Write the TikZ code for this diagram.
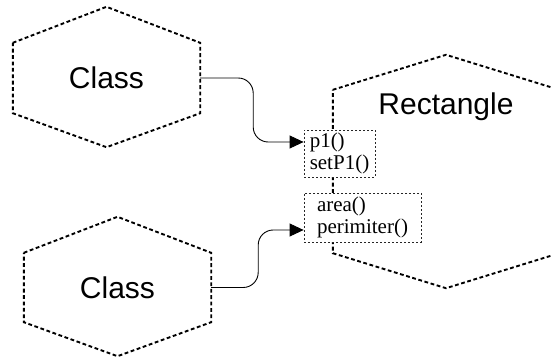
\documentclass[tikz,border=0pt]{standalone}
\usepackage{fontspec}
\setmainfont{Liberation Serif}
\newfontfamily\arialfont{Liberation Sans}
\usetikzlibrary{calc,arrows.meta}
\tikzset{
  hexbox/.style={minimum width=#1, inner sep=0pt, font=\arialfont\fontsize{30}{34}\selectfont},
  hexline/.style={draw=black, line width=1.9pt, dash pattern=on 3.8pt off 2.6pt},
  methbox/.style={draw=black!85, fill=white, line width=0.8pt, dash pattern=on 2.4pt off 1.6pt,
    align=left, inner sep=0pt, font=\fontsize{21}{22}\selectfont},
  conn/.style={draw=black, line width=0.9pt, rounded corners=15pt, -{Triangle[length=14pt,width=13pt]}}
}
\begin{document}
\begin{tikzpicture}[x=1pt,y=-1pt]
\useasboundingbox (0,0) rectangle (552,358);
\clip (0,0) rectangle (552,358);
% hexagon nodes (rectangular part between corners)
\node[hexbox=187pt, minimum height=70pt] (c1) at (106.5,78) {Class};
\node[hexbox=187pt, minimum height=69pt] (c2) at (117.5,287.5) {Class};
\node[hexbox=226pt, minimum height=163pt] (r) at (446,171.5) {};
\node[font=\arialfont\fontsize{30}{34}\selectfont, anchor=base, inner sep=0pt] (rt) at (446,115) {Rectangle};
% hexagon outlines
\draw[hexline] (c1.north west) -- ($(c1.north)+(0,-36)$) -- (c1.north east) -- (c1.south east) -- ($(c1.south)+(0,34)$) -- (c1.south west) -- cycle;
\draw[hexline] (c2.north west) -- ($(c2.north)+(0,-36)$) -- (c2.north east) -- (c2.south east) -- ($(c2.south)+(0,34)$) -- (c2.south west) -- cycle;
\draw[hexline] (r.north west) -- ($(r.north)+(0,-35)$) -- (r.north east) -- (r.south east) -- ($(r.south)+(0,35)$) -- (r.south west) -- cycle;
% method boxes
\node[methbox, minimum width=71pt, minimum height=47pt] (b1) at (339.5,153.5) {p1()\\setP1()};
\node[methbox, minimum width=117pt, minimum height=49pt] (b2) at (362.5,217.5) {area()\\perimiter()};
% connectors
\draw[conn] (c1.east) -- ++(53,0) |- ($(b1.west)+(0,-11.5)$);
\draw[conn] (c2.east) -- ++(47,0) |- ($(b2.west)+(0,12.5)$);
\end{tikzpicture}
\end{document}
